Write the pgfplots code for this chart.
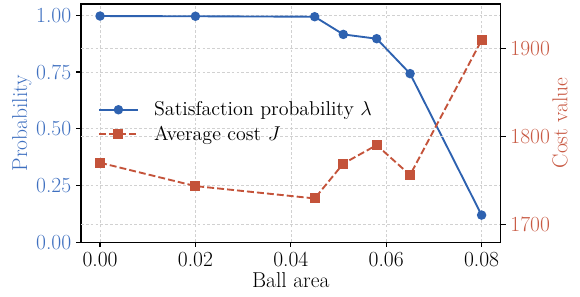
\documentclass[border=0pt]{standalone}
\usepackage{fontspec}
\usepackage{pgfplots}
\pgfplotsset{compat=1.18}
\definecolor{cblue}{HTML}{2E62B0}
\definecolor{cbluet}{HTML}{3F70C0}
\definecolor{cred}{HTML}{C4533A}
\definecolor{credt}{HTML}{C85A44}
\begin{document}
\begin{tikzpicture}
\path[use as bounding box] (-58.3pt,-38.9pt) rectangle (359.3pt,174.3pt);
\pgfplotsset{every axis/.append style={
  scale only axis, width=302.2pt, height=171.4pt,
  at={(0,0)}, anchor=south west,
  xmin=-0.004, xmax=0.084,
  tick align=outside, major tick length=3.5pt,
  major tick style={line width=0.8pt, black},
  major grid style={dash pattern=on 2pt off 1.5pt, black!18, line width=0.45pt},
  tick label style={font=\fontsize{15.5}{18}\selectfont},
  /pgf/number format/assume math mode=true,
  axis line style={line width=0.8pt},
}}
\begin{axis}[
  ymin=0, ymax=1.05,
  xtick={0,0.02,0.04,0.06,0.08},
  ytick={0,0.25,0.5,0.75,1},
  scaled x ticks=false, scaled y ticks=false,
  xticklabel style={/pgf/number format/fixed, /pgf/number format/fixed zerofill, /pgf/number format/precision=2},
  yticklabel style={/pgf/number format/fixed, /pgf/number format/fixed zerofill, /pgf/number format/precision=2, text=cbluet},
  xmajorgrids, ymajorgrids,
  tick pos=left,
  xlabel={Ball area},
  ylabel={Probability},
  every axis x label/.style={at={(axis description cs:0.5,0)}, anchor=center, yshift=-27.4pt, font=\fontsize{15.5}{18}\selectfont},
  every axis y label/.style={at={(axis description cs:0,0.5)}, xshift=-42.5pt, rotate=90, anchor=center, text=cbluet, font=\fontsize{15.5}{18}\selectfont},
]
\addplot[cblue, line width=1.35pt, mark=*, mark size=2.7pt] coordinates {
  (0,0.997) (0.02,0.996) (0.045,0.994) (0.051,0.916) (0.058,0.897) (0.065,0.743) (0.08,0.119)
};
\end{axis}
\begin{axis}[
  ymin=1680, ymax=1950,
  ytick={1700,1800,1900},
  axis y line*=right, axis x line=none,
  ymajorgrids, xmajorgrids=false,
  yticklabel style={text=credt, /pgf/number format/set thousands separator={}},
  ylabel={Cost value},
  every axis y label/.style={at={(axis description cs:1,0.5)}, xshift=42.7pt, rotate=90, anchor=center, text=credt, font=\fontsize{15.5}{18}\selectfont},
  legend style={draw=none, fill=none, at={(axis description cs:0.04,0.504)}, anchor=west, inner sep=0pt, font=\fontsize{14.4}{17}\selectfont, row sep=2pt, /tikz/every odd column/.append style={column sep=9pt}},
  legend cell align=left,
  legend image code/.code={\draw[mark repeat=2, mark phase=2] plot coordinates {(0pt,0pt) (14pt,0pt) (28pt,0pt)};},
]
\addlegendimage{cblue, line width=1.35pt, mark=*, mark size=2.7pt}
\addlegendentry{Satisfaction probability $\lambda$}
\addplot[cred, line width=1.35pt, dash pattern=on 5pt off 2.2pt, mark=square*, mark size=2.9pt, mark options={solid}] coordinates {
  (0,1770) (0.02,1743.5) (0.045,1729.5) (0.051,1769) (0.058,1790) (0.065,1756) (0.08,1909)
};
\addlegendentry{Average cost $J$}
\end{axis}
\end{tikzpicture}
\end{document}
